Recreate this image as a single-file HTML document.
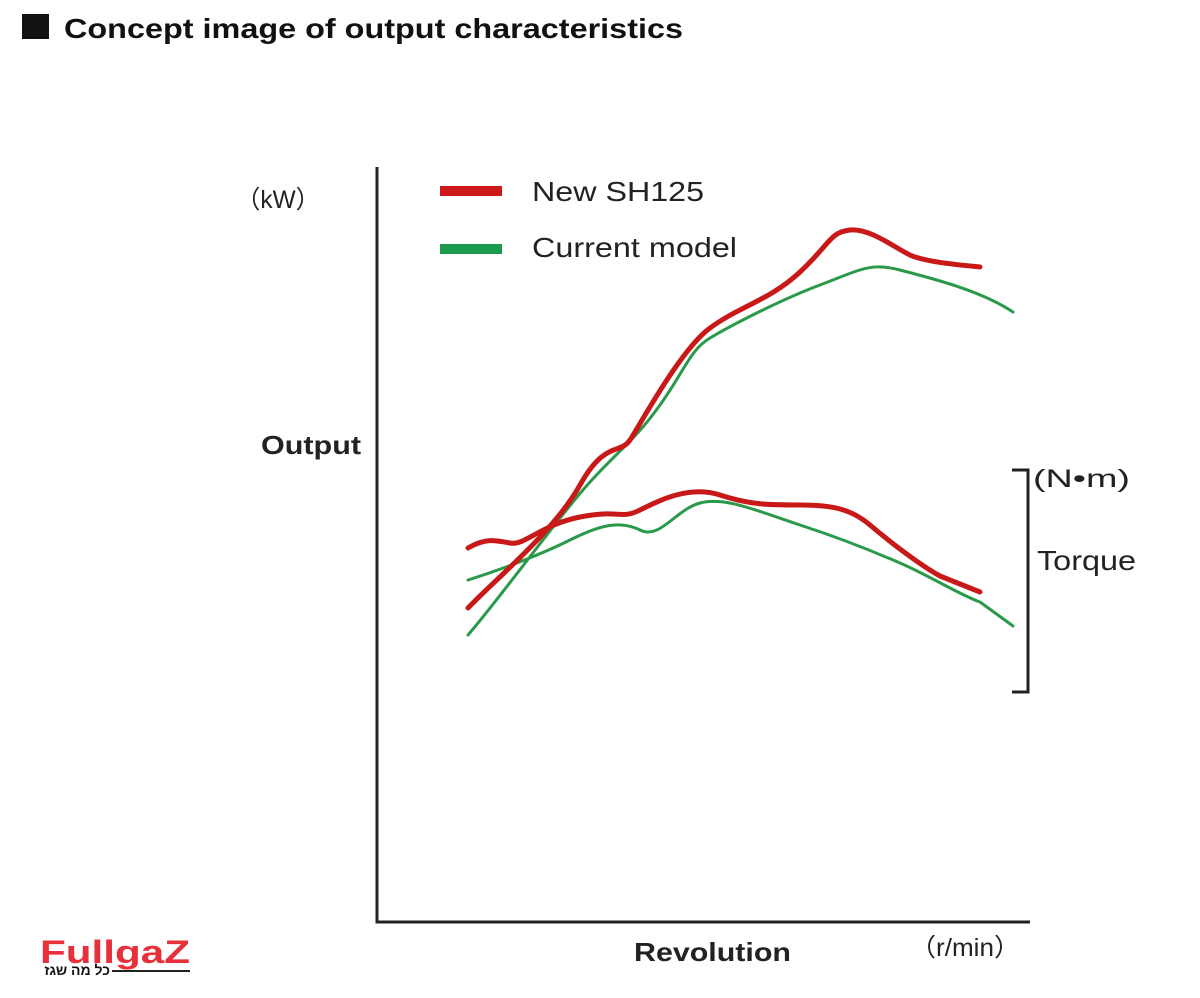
<!DOCTYPE html>
<html><head><meta charset="utf-8"><style>
body{margin:0;background:#fff;width:1200px;height:998px;overflow:hidden}
svg{display:block}
</style></head><body>
<svg width="1200" height="998" viewBox="0 0 1200 998" xmlns="http://www.w3.org/2000/svg" font-family="Liberation Sans, sans-serif">
<rect x="22" y="14" width="27" height="25" fill="#111"/>
<text x="64" y="38" font-size="28" font-weight="bold" fill="#111" textLength="619" lengthAdjust="spacingAndGlyphs">Concept image of output characteristics</text>
<path d="M377 167 V922 H1030" stroke="#222" stroke-width="3" fill="none"/>
<text x="236" y="208" font-size="25" fill="#222" textLength="84" lengthAdjust="spacingAndGlyphs">（kW）</text>
<text x="261" y="454" font-size="26" font-weight="bold" fill="#222" textLength="100" lengthAdjust="spacingAndGlyphs">Output</text>
<text x="634" y="961" font-size="26" font-weight="bold" fill="#222" textLength="157" lengthAdjust="spacingAndGlyphs">Revolution</text>
<text x="910" y="956" font-size="25" fill="#222" textLength="110" lengthAdjust="spacingAndGlyphs">（r/min）</text>
<path d="M1012 470 H1028 V692 H1012" stroke="#222" stroke-width="3" fill="none"/>
<text x="1033" y="487" font-size="25" fill="#222" textLength="97" lengthAdjust="spacingAndGlyphs">(N•m)</text>
<text x="1037" y="570" font-size="28" fill="#222" textLength="99" lengthAdjust="spacingAndGlyphs">Torque</text>
<rect x="440" y="186" width="62" height="10" fill="#cc1a1a"/>
<text x="532" y="201" font-size="28" fill="#222" textLength="172" lengthAdjust="spacingAndGlyphs">New SH125</text>
<rect x="440" y="244" width="62" height="10" fill="#1a9a4a"/>
<text x="532" y="257" font-size="28" fill="#222" textLength="205" lengthAdjust="spacingAndGlyphs">Current model</text>
<g fill="none" stroke-linecap="round" stroke-linejoin="round">
<path stroke="#2a9a4a" stroke-width="3" d="M468 635 C500 598 560 515 590 482 S635 440 660 405 S690 350 710 338 S780 300 820 285 S870 262 900 270 S980 290 1013 312"/>
<path stroke="#2a9a4a" stroke-width="3" d="M468 580 C500 570 540 555 570 540 S620 520 640 530 S675 510 700 503 S760 512 800 525 S870 550 900 563 S960 595 980 602 L1013 626"/>
<path stroke="#c81818" stroke-width="5" d="M468 608 C500 575 555 530 580 485 S620 455 630 440 S680 350 710 328 S770 300 800 272 S830 232 850 230 S895 248 910 255 S960 265 980 267"/>
<path stroke="#c81818" stroke-width="5" d="M468 548 C485 538 495 540 510 543 S540 525 580 517 S620 520 640 510 S690 485 720 495 S770 505 800 505 S850 508 870 525 S920 565 940 576 L980 592"/>
</g>
<text x="40" y="963" font-size="32" font-weight="bold" fill="#e8303a" textLength="150" lengthAdjust="spacingAndGlyphs">FullgaZ</text>
<line x1="112" y1="971" x2="190" y2="971" stroke="#222" stroke-width="2"/>
<text x="110" y="975" font-size="14" font-weight="bold" fill="#111" text-anchor="end" font-family="Liberation Sans, DejaVu Sans, sans-serif">כל מה שגז</text>
</svg>
</body></html>
